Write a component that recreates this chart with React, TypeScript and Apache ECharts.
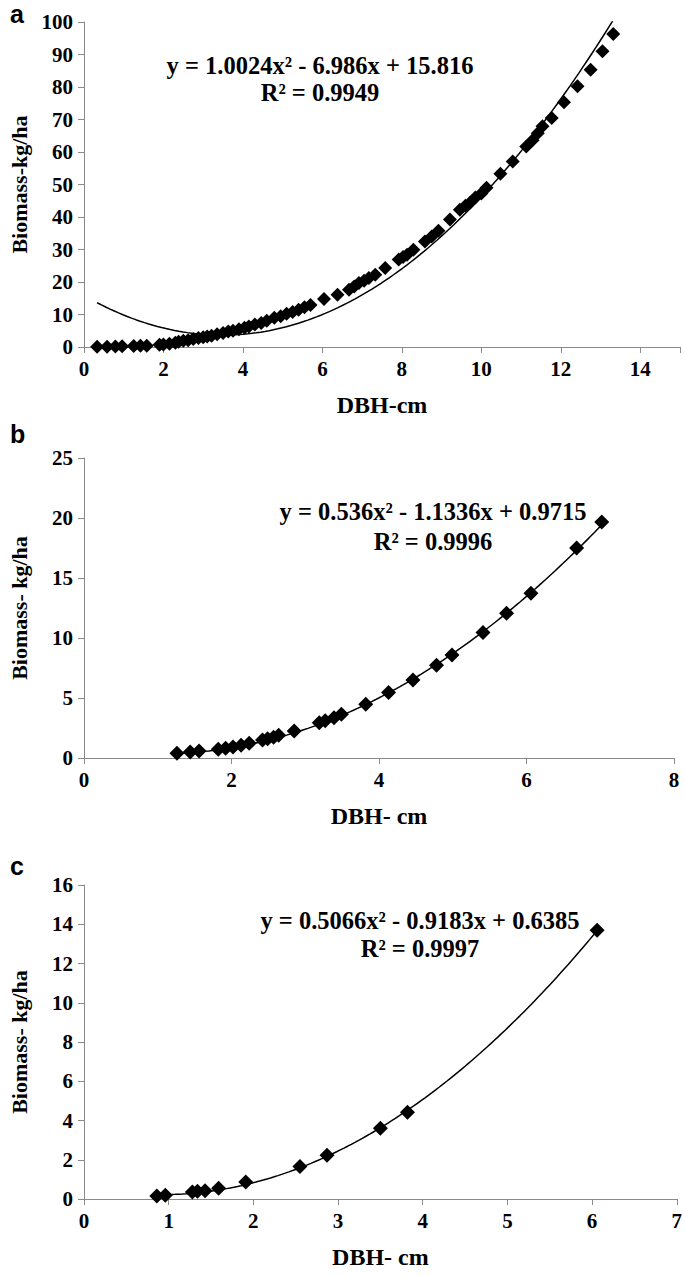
import React, { useEffect, useRef } from "react";
import * as echarts from "echarts";

// ---- Panel a ----
const aDbh = [0.33, 0.58, 0.79, 0.96, 1.25, 1.42, 1.58, 1.9, 2.0, 2.15, 2.3, 2.38, 2.5, 2.62, 2.75, 2.88, 3.0, 3.1, 3.21, 3.35, 3.5, 3.63, 3.75, 3.9, 4.04, 4.15, 4.3, 4.46, 4.6, 4.79, 4.95, 5.1, 5.25, 5.4, 5.55, 5.7, 6.04, 6.38, 6.67, 6.8, 6.92, 7.05, 7.17, 7.33, 7.58, 7.92, 8.03, 8.13, 8.29, 8.58, 8.75, 8.92, 9.21, 9.46, 9.6, 9.72, 9.85, 10.0, 10.13, 10.48, 10.79, 11.13, 11.29, 11.42, 11.54, 11.77, 12.08, 12.42, 12.75, 13.05, 13.32];
const aBiomass = [0.1, 0.1, 0.15, 0.2, 0.3, 0.35, 0.4, 0.7, 0.8, 1.0, 1.3, 1.6, 1.9, 2.1, 2.5, 2.8, 3.0, 3.2, 3.5, 3.9, 4.3, 4.8, 5.0, 5.5, 5.9, 6.3, 6.9, 7.4, 8.1, 9.0, 9.5, 10.2, 10.8, 11.5, 12.2, 12.9, 14.8, 16.1, 17.6, 18.6, 19.7, 20.4, 21.2, 22.2, 24.3, 26.9, 27.7, 28.4, 29.9, 32.5, 34.0, 35.8, 39.2, 42.2, 43.5, 44.5, 46.0, 47.2, 49.0, 53.3, 57.1, 61.7, 63.6, 65.8, 67.9, 70.5, 75.3, 80.2, 85.3, 91.0, 96.3];
const aCoef = [1.0024, -6.986, 15.816];
const aEquation = "y = 1.0024x² - 6.986x + 15.816";
const aR2 = "R² = 0.9949";

// ---- Panel b ----
const bDbh = [1.26, 1.44, 1.56, 1.82, 1.92, 2.02, 2.13, 2.24, 2.42, 2.49, 2.57, 2.64, 2.85, 3.19, 3.27, 3.39, 3.49, 3.82, 4.13, 4.46, 4.78, 4.99, 5.41, 5.73, 6.06, 6.68, 7.02];
const bBiomass = [0.39, 0.5, 0.58, 0.72, 0.81, 0.92, 1.06, 1.23, 1.5, 1.61, 1.72, 1.89, 2.25, 2.94, 3.11, 3.36, 3.64, 4.47, 5.45, 6.5, 7.72, 8.58, 10.45, 12.06, 13.72, 17.5, 19.67];
const bCoef = [0.536, -1.1336, 0.9715];
const bEquation = "y = 0.536x² - 1.1336x + 0.9715";
const bR2 = "R² = 0.9996";

// ---- Panel c ----
const cDbh = [0.86, 0.96, 1.28, 1.34, 1.43, 1.59, 1.91, 2.55, 2.87, 3.5, 3.82, 6.06];
const cBiomass = [0.15, 0.19, 0.36, 0.39, 0.42, 0.55, 0.87, 1.65, 2.23, 3.6, 4.42, 13.69];
const cCoef = [0.5066, -0.9183, 0.6385];
const cEquation = "y = 0.5066x² - 0.9183x + 0.6385";
const cR2 = "R² = 0.9997";

const panelLetters = ["a", "b", "c"];
const xNames = ["DBH-cm", "DBH- cm", "DBH- cm"];
const yNames = ["Biomass-kg/ha", "Biomass- kg/ha", "Biomass- kg/ha"];

const SERIF = "Liberation Serif";
const AXIS_COLOR = "#8a8a8a";

function trend(coef: number[], xs: number[]) {
  const lo = Math.min(...xs);
  const hi = Math.max(...xs);
  const n = 120;
  const out: number[][] = [];
  for (let i = 0; i <= n; i++) {
    const x = lo + ((hi - lo) * i) / n;
    out.push([x, coef[0] * x * x + coef[1] * x + coef[2]]);
  }
  return out;
}

function pairs(xs: number[], ys: number[]) {
  return xs.map((x, i) => [x, ys[i]]);
}

export default function App() {
  const ref = useRef<HTMLDivElement>(null);
  useEffect(() => {
    document.body.style.margin = "0";
    if (!ref.current) return;
    const chart = echarts.init(ref.current, undefined, { renderer: "svg" });

    const grids = [
      { left: 80, top: 22, width: 600, height: 325 },
      { left: 80, top: 458, width: 594, height: 300 },
      { left: 80, top: 885, width: 598, height: 314 },
    ];
    const xRanges = [
      { max: 15, interval: 2 },
      { max: 8, interval: 2 },
      { max: 7, interval: 1 },
    ];
    const yRanges = [
      { max: 100, interval: 10 },
      { max: 25, interval: 5 },
      { max: 16, interval: 2 },
    ];
    const lineStyleAxis = { show: true, lineStyle: { color: AXIS_COLOR, width: 1 } };
    const labelStyle = {
      fontFamily: SERIF,
      fontWeight: "bold" as const,
      fontSize: 21,
      color: "#000",
    };
    const xNameStyle = { fontFamily: SERIF, fontWeight: "bold", fontSize: 24, color: "#000" };
    const yNameStyle = { fontFamily: SERIF, fontWeight: "bold", fontSize: 22, color: "#000" };

    const xAxis = grids.map((_, i) => ({
      type: "value",
      gridIndex: i,
      min: 0,
      max: xRanges[i].max,
      interval: xRanges[i].interval,
      splitLine: { show: false },
      axisLine: { ...lineStyleAxis, onZero: false },
      axisTick: { show: true, inside: false, length: 6, lineStyle: { color: AXIS_COLOR } },
      axisLabel: {
        ...labelStyle,
        margin: 11,
        formatter: (v: number) => (i === 0 && v === 15 ? "" : String(v)),
      },
      name: xNames[i],
      nameLocation: "middle",
      nameGap: 46,
      nameTextStyle: xNameStyle,
    }));
    const yAxis = grids.map((_, i) => ({
      type: "value",
      gridIndex: i,
      min: 0,
      max: yRanges[i].max,
      interval: yRanges[i].interval,
      splitLine: { show: false },
      axisLine: lineStyleAxis,
      axisTick: { show: true, inside: false, length: 6, lineStyle: { color: AXIS_COLOR } },
      axisLabel: { ...labelStyle, margin: 11 },
      name: yNames[i],
      nameLocation: "middle",
      nameRotate: 90,
      nameGap: 54,
      nameTextStyle: yNameStyle,
    }));

    const sets = [
      { xs: aDbh, ys: aBiomass, coef: aCoef, size: 14 },
      { xs: bDbh, ys: bBiomass, coef: bCoef, size: 15 },
      { xs: cDbh, ys: cBiomass, coef: cCoef, size: 15 },
    ];
    const series: any[] = [];
    sets.forEach((s, i) => {
      series.push({
        type: "line",
        xAxisIndex: i,
        yAxisIndex: i,
        data: trend(s.coef, s.xs),
        showSymbol: false,
        symbol: "none",
        smooth: false,
        clip: true,
        lineStyle: { color: "#000", width: 1.5 },
        z: 2,
      });
      series.push({
        type: "scatter",
        xAxisIndex: i,
        yAxisIndex: i,
        data: pairs(s.xs, s.ys),
        symbol: "diamond",
        symbolSize: s.size,
        itemStyle: { color: "#000", opacity: 1 },
        z: 3,
      });
    });

    const eqStyle = { fontFamily: SERIF, fontWeight: "bold", fontSize: 24.5, fill: "#000" };
    const letterStyle = { fontFamily: "Liberation Sans", fontWeight: "bold", fontSize: 25, fill: "#000" };
    const texts = [
      { eq: aEquation, r2: aR2, cx: 320, y1: 65, y2: 92 },
      { eq: bEquation, r2: bR2, cx: 433, y1: 511, y2: 541 },
      { eq: cEquation, r2: cR2, cx: 420, y1: 920, y2: 948 },
    ];
    const letterPos = [
      { x: 10, y: 26 },
      { x: 10, y: 446 },
      { x: 10, y: 878 },
    ];
    const graphic: any[] = [];
    texts.forEach((t, i) => {
      graphic.push({
        type: "text",
        x: t.cx,
        y: t.y1,
        style: { ...eqStyle, text: t.eq, align: "center", verticalAlign: "middle" },
      });
      graphic.push({
        type: "text",
        x: t.cx,
        y: t.y2,
        style: { ...eqStyle, text: t.r2, align: "center", verticalAlign: "middle" },
      });
      graphic.push({
        type: "text",
        x: letterPos[i].x,
        y: letterPos[i].y,
        style: { ...letterStyle, text: panelLetters[i], align: "left", verticalAlign: "bottom" },
      });
    });

    chart.setOption({
      animation: false,
      backgroundColor: "#fff",
      grid: grids,
      xAxis,
      yAxis,
      series,
      graphic,
    });
    return () => chart.dispose();
  }, []);
  return <div ref={ref} style={{ width: 685, height: 1277 }} />;
}
